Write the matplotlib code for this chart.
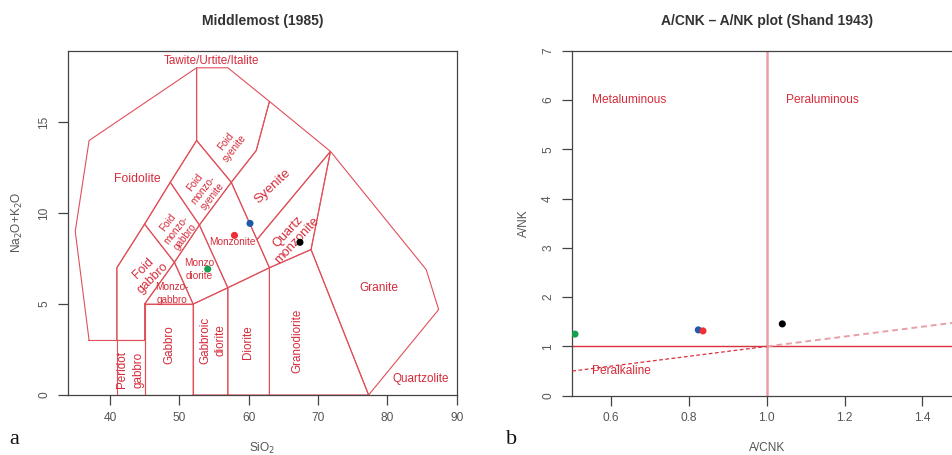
import matplotlib
matplotlib.use("Agg")
import matplotlib.pyplot as plt
import numpy as np

plt.rcParams['font.family'] = ['Liberation Sans', 'DejaVu Sans']

# ---------------- data ----------------
# Middlemost (1985) field boundaries (SiO2, Na2O+K2O)
fields = {
    "Peridot gabbro": [(41, 0), (41, 3), (45, 3), (45, 0)],
    "Gabbro": [(45, 0), (45, 5), (52, 5), (52, 0)],
    "Gabbroic diorite": [(52, 0), (52, 5), (57, 5.9), (57, 0)],
    "Diorite": [(57, 0), (57, 5.9), (63, 7), (63, 0)],
    "Granodiorite": [(63, 0), (63, 7), (69, 8), (77.3, 0)],
    "Granite": [(69, 8), (71.8, 13.4), (85.6, 6.9), (87.4, 4.7), (77.3, 0)],
    "Quartz monzonite": [(63, 7), (61.2, 8.55), (71.8, 13.4), (69, 8)],
    "Monzonite": [(52.9, 9.35), (57.5, 11.7), (61.2, 8.55), (63, 7), (57, 5.9)],
    "Syenite": [(57.5, 11.7), (61.1, 13.45), (63, 16.15), (71.8, 13.4), (61.2, 8.55)],
    "Foid syenite": [(52.5, 14), (52.5, 18), (57, 18), (63, 16.15), (61.1, 13.45), (57.5, 11.7)],
    "Foid monzosyenite": [(48.7, 11.7), (52.5, 14), (57.5, 11.7), (52.9, 9.35)],
    "Foid monzogabbro": [(45, 9.4), (48.7, 11.7), (52.9, 9.35), (49.3, 7.3)],
    "Monzodiorite": [(49.3, 7.3), (52.9, 9.35), (57, 5.9), (52, 5)],
    "Monzogabbro": [(45, 5), (49.3, 7.3), (52, 5)],
    "Foid gabbro": [(41, 3), (41, 7), (45, 9.4), (49.3, 7.3), (45, 5), (45, 3)],
    "Foidolite": [(37, 3), (35, 9), (37, 14), (52.5, 18), (52.5, 14), (48.7, 11.7),
                  (45, 9.4), (41, 7), (41, 3)],
}

# field labels: text, x, y, rotation, size, linespacing
field_labels = [
    ("Tawite/Urtite/Italite", 54.7, 18.4, 0, 8.4, 1.0),
    ("Foidolite", 43.9, 11.9, 0, 8.8, 1.0),
    ("Foid\nsyenite", 57.3, 13.75, 52, 7.2, 1.15),
    ("Foid\nmonzo-\nsyenite", 53.5, 11.3, 52, 7.2, 1.15),
    ("Foid\nmonzo-\ngabbro", 49.6, 9.1, 52, 7.2, 1.15),
    ("Foid\ngabbro", 45.5, 6.7, 45, 8.8, 1.1),
    ("Monzo-\ngabbro", 49.0, 5.6, 0, 7.2, 1.35),
    ("Monzo\ndiorite", 52.8, 6.9, 0, 7.2, 1.35),
    ("Monzonite", 57.7, 8.4, 0, 7.2, 1.0),
    ("Syenite", 63.5, 11.5, 43, 9.6, 1.0),
    ("Quartz\nmonzonite", 66.3, 8.75, 47, 9.2, 1.1),
    ("Granite", 78.8, 5.9, 0, 8.6, 1.0),
    ("Quartzolite", 84.8, 0.9, 0, 8.4, 1.0),
    ("Granodiorite", 67.05, 3.0, 90, 8.4, 1.0),
    ("Diorite", 59.9, 2.93, 90, 8.4, 1.0),
    ("Gabbroic\ndiorite", 54.85, 3.0, 90, 8.4, 1.35),
    ("Gabbro", 48.6, 2.75, 90, 8.4, 1.0),
    ("Peridot\ngabbro", 42.9, 1.4, 90, 8.4, 1.45),
]

# samples
sample_colors = ["#1E5AAA", "#EE3035", "#16A050", "#000000"]
sio2 = [60.2, 57.96, 54.1, 67.4]
alkali = [9.44, 8.78, 6.93, 8.4]
a_cnk = [0.824, 0.836, 0.507, 1.04]
a_nk = [1.335, 1.315, 1.25, 1.457]

# Shand diagram reference lines
peralk_x = [0.5, 1.0, 1.5]
peralk_y = [0.5, 1.0, 1.5]

left_xticks = [40, 50, 60, 70, 80, 90]
left_yticks = [0, 5, 10, 15]
right_xticks = [0.6, 0.8, 1.0, 1.2, 1.4]
right_xticklabels = ["0.6", "0.8", "1.0", "1.2", "1.4"]
right_yticks = [0, 1, 2, 3, 4, 5, 6, 7]

# ---------------- style ----------------
LINE = "#E0505B"
TXT = "#D52B3A"
AX = "#444444"
TICKTXT = "#555555"

W, H = 953, 455
fig = plt.figure(figsize=(W / 100, H / 100), dpi=100)


def px_axes(x0, x1, ytop, ybot):
    return fig.add_axes([x0 / W, 1 - ybot / H, (x1 - x0) / W, (ybot - ytop) / H])


def style_axes(ax):
    for s in ax.spines.values():
        s.set_color(AX)
        s.set_linewidth(0.9)
    ax.tick_params(direction="out", length=7, width=0.9, color=AX,
                   labelcolor=TICKTXT, labelsize=8.6)
    ax.tick_params(axis="x", pad=5)
    ax.tick_params(axis="y", pad=6)


# ---------------- left panel ----------------
ax1 = px_axes(68.3, 456.7, 50.7, 395.0)
for name, pts in fields.items():
    p = np.array(pts + [pts[0]])
    ax1.plot(p[:, 0], p[:, 1], color=LINE, lw=0.8, solid_joinstyle="miter")
for t, x, y, r, s, ls in field_labels:
    ax1.text(x, y, t, rotation=r, fontsize=s, color=TXT,
             ha="center", va="center", rotation_mode="anchor", linespacing=ls)
ax1.scatter(sio2, alkali, c=sample_colors, s=26, zorder=5, linewidths=0)
ax1.set_xlim(34, 90)
ax1.set_ylim(0, 18.94)
ax1.set_xticks(left_xticks)
ax1.set_yticks(left_yticks)
style_axes(ax1)
for lab in ax1.get_yticklabels():
    lab.set_rotation(90)
    lab.set_va("center")

# ---------------- right panel ----------------
ax2 = px_axes(572.3, 961.2, 50.7, 395.7)
ax2.axvline(1.0, color="#E8A0A6", lw=1.8, zorder=2)
ax2.axhline(1.0, color="#D8303C", lw=1.0, zorder=2)
ax2.plot(peralk_x[:2], peralk_y[:2], color="#D8303C", lw=0.9, ls=(0, (3, 2)), zorder=3)
ax2.plot(peralk_x[1:], peralk_y[1:], color="#E8A0A6", lw=1.4, ls=(0, (3, 2)), zorder=3)
ax2.text(0.55, 6.0, "Metaluminous", color=TXT, fontsize=8.6, ha="left", va="center")
ax2.text(1.05, 6.0, "Peraluminous", color=TXT, fontsize=8.6, ha="left", va="center")
ax2.text(0.55, 0.5, "Peralkaline", color=TXT, fontsize=8.6, ha="left", va="center")
ax2.scatter(a_cnk, a_nk, c=sample_colors, s=26, zorder=5, linewidths=0)
ax2.set_xlim(0.5, 1.5)
ax2.set_ylim(0, 7)
ax2.set_xticks(right_xticks)
ax2.set_xticklabels(right_xticklabels)
ax2.set_yticks(right_yticks)
style_axes(ax2)
for lab in ax2.get_yticklabels():
    lab.set_rotation(90)
    lab.set_va("center")

# ---------------- titles, axis labels, panel letters ----------------
fig.text(262.5 / W, 1 - 20.5 / H, "Middlemost (1985)", ha="center", va="center",
         fontsize=10, fontweight="bold", color="#333333")
fig.text(766.7 / W, 1 - 20.5 / H, "A/CNK – A/NK plot (Shand 1943)", ha="center",
         va="center", fontsize=10, fontweight="bold", color="#333333")
fig.text(262.5 / W, 1 - 448 / H, "SiO$_2$", ha="center", va="center",
         fontsize=8.6, color=TICKTXT)
fig.text(766.7 / W, 1 - 448 / H, "A/CNK", ha="center", va="center",
         fontsize=8.6, color=TICKTXT)
fig.text(17 / W, 1 - 222 / H, "Na$_2$O+K$_2$O", ha="center", va="center",
         rotation=90, fontsize=8.6, color=TICKTXT)
fig.text(524 / W, 1 - 223 / H, "A/NK", ha="center", va="center",
         rotation=90, fontsize=8.6, color=TICKTXT)
fig.text(14 / W, 1 - 440 / H, "a", ha="center", va="center",
         fontsize=16, family="Liberation Serif", color="#111111")
fig.text(512 / W, 1 - 440 / H, "b", ha="center", va="center",
         fontsize=16, family="Liberation Serif", color="#111111")

fig.savefig("out.png", dpi=100)
